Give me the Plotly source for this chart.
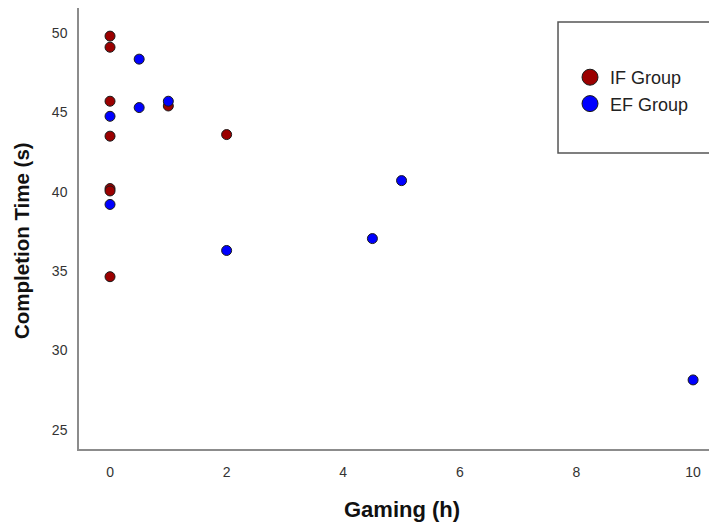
import plotly.graph_objects as go

# Data
if_gaming = [0, 0, 0, 0, 0, 0, 0, 1, 2]
if_time = [49.8, 49.1, 45.7, 43.5, 40.2, 40.05, 34.65, 45.4, 43.6]

ef_gaming = [0, 0, 0.5, 0.5, 1, 2, 4.5, 5, 10]
ef_time = [44.75, 39.2, 48.35, 45.3, 45.7, 36.3, 37.05, 40.7, 28.15]

x_ticks = [0, 2, 4, 6, 8, 10]
y_ticks = [25, 30, 35, 40, 45, 50]

RED = "#9B0000"
BLUE = "#0000FF"
FONT = "Liberation Sans, Arial, sans-serif"

fig = go.Figure()

fig.add_trace(go.Scatter(
    x=if_gaming, y=if_time, mode="markers", name="IF Group", showlegend=False,
    marker=dict(size=10, color=RED, line=dict(color="#1a1a1a", width=1)),
))
fig.add_trace(go.Scatter(
    x=ef_gaming, y=ef_time, mode="markers", name="EF Group", showlegend=False,
    marker=dict(size=10, color=BLUE, line=dict(color="#1a1a1a", width=1)),
))
# legend entries (larger symbols as in the reference)
fig.add_trace(go.Scatter(
    x=[None], y=[None], mode="markers", name="IF Group",
    marker=dict(size=16, color=RED, line=dict(color="#1a1a1a", width=1)),
))
fig.add_trace(go.Scatter(
    x=[None], y=[None], mode="markers", name="EF Group",
    marker=dict(size=16, color=BLUE, line=dict(color="#1a1a1a", width=1)),
))

axis_common = dict(
    showgrid=False, zeroline=False, showline=True, linecolor="#8c8c8c", linewidth=1.5,
    ticks="outside", tickcolor="rgba(0,0,0,0)",
    tickfont=dict(family=FONT, size=14, color="#333333"),
)

fig.update_xaxes(range=[-0.532, 10.41], tickvals=x_ticks, ticklen=9, **axis_common)
fig.update_yaxes(range=[23.8, 51.57], tickvals=y_ticks, ticklen=7, **axis_common)

fig.add_annotation(text="<b>Gaming (h)</b>", xref="paper", yref="paper",
                   x=0.506, y=-0.1383, xanchor="center", yanchor="middle",
                   showarrow=False, font=dict(family=FONT, size=22, color="#111111"))
fig.add_annotation(text="<b>Completion Time (s)</b>", xref="paper", yref="paper",
                   x=-0.0893, y=0.4717, xanchor="center", yanchor="middle", textangle=-90,
                   showarrow=False, font=dict(family=FONT, size=20.5, color="#111111"))

# legend frame
fig.add_shape(type="rect", xref="paper", yref="paper",
              x0=0.7508, x1=0.989, y0=0.6712, y1=0.9683,
              line=dict(color="#555555", width=1.5), fillcolor="rgba(0,0,0,0)")

# page body has an 8px margin, so the figure is sized to fit inside the window
fig.update_layout(
    width=709, height=515,
    margin=dict(l=71, r=0, t=0, b=74),
    paper_bgcolor="white", plot_bgcolor="white",
    showlegend=True,
    legend=dict(x=(570 - 79) / 638, y=(449 - 59) / 441, xanchor="left", yanchor="top",
                bgcolor="rgba(0,0,0,0)", borderwidth=0,
                font=dict(family=FONT, size=18, color="#222222"),
                itemclick=False, itemdoubleclick=False),
)

fig.write_html("out.html")
